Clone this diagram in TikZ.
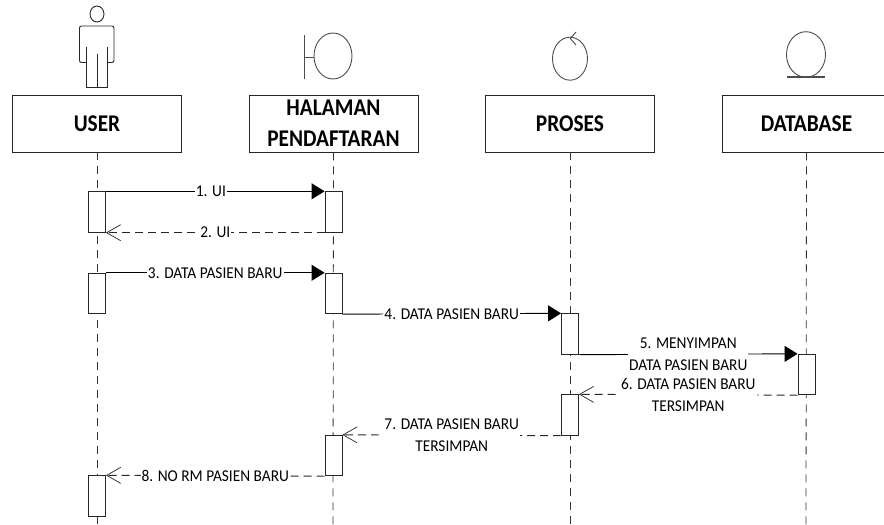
\documentclass[tikz,border=0pt]{standalone}
\usepackage{fontspec}
\setmainfont{Carlito}
\newfontfamily\headfam[FakeStretch=0.89]{Carlito}
\newfontfamily\labfam[FakeStretch=0.93]{Carlito}
\usetikzlibrary{arrows.meta}
\tikzset{
 headbox/.style={draw=black!85,line width=0.9pt,fill=white,minimum width=169,minimum height=57,inner sep=0pt,align=center,font=\fontsize{24}{31}\selectfont\headfam\bfseries},
 bar/.style={draw=black!85,line width=0.9pt,fill=white,minimum width=17,minimum height=40.5,inner sep=0pt},
 life/.style={draw=black!80,line width=0.8pt,dash pattern=on 8pt off 6pt},
 msg/.style={draw=black,line width=0.9pt,-{Triangle[length=13pt,width=16pt]},shorten >=0pt},
 ret/.style={draw=black!85,line width=0.9pt,dash pattern=on 8pt off 5pt,-{Straight Barb[length=14pt,width=16pt,line width=0.7pt]}},
 lab/.style={fill=white,inner xsep=1pt,inner ysep=0pt,align=center,font=\fontsize{16.5}{21.5}\selectfont\labfam},
 icon/.style={draw=black!70,line width=0.9pt}
}
\begin{document}
\begin{tikzpicture}[x=1pt,y=-1pt]
\useasboundingbox (0,0) rectangle (884,525);
\clip (0,0) rectangle (884,525);
% lifeline ends
\coordinate (eu) at (97,525);
\coordinate (eh) at (333,525);
\coordinate (ep) at (570,525);
\coordinate (ed) at (806,525);
% heads
\node[headbox] (user) at (97,123.5) {USER};
\node[headbox] (hal) at (333.5,123.5) {HALAMAN\\PENDAFTARAN};
\node[headbox] (pro) at (570,123.5) {PROSES};
\node[headbox] (db) at (806.5,123.5) {DATABASE};
\draw[life] (user.south) -- (eu);
\draw[life] (hal.south) -- (eh);
\draw[life] (pro.south) -- (ep);
\draw[life] (db.south) -- (ed);
% activations
\node[bar] (u1) at (97,212) {};
\node[bar] (u2) at (97,293.5) {};
\node[bar] (u3) at (97,496) {};
\node[bar] (h1) at (333.5,212) {};
\node[bar] (h2) at (333.5,293.5) {};
\node[bar] (h3) at (333.5,455.5) {};
\node[bar] (p1) at (570,334) {};
\node[bar] (p2) at (570,415) {};
\node[bar] (d1) at (806.5,374.5) {};
% messages
\draw[msg] (u1.north east) -- node[lab,pos=0.48]{1. UI} (h1.north west);
\draw[ret] (h1.south west) -- node[lab,pos=0.5]{2. UI} (u1.south east);
\draw[msg] (u2.north east) -- node[lab,pos=0.5]{3. DATA PASIEN BARU} (h2.north west);
\draw[msg] (h2.south east) -- node[lab,pos=0.5]{4. DATA PASIEN BARU} (p1.north west);
\draw[msg] (p1.south east) -- node[lab,pos=0.5]{5. MENYIMPAN\\DATA PASIEN BARU} (d1.north west);
\draw[ret] (d1.south west) -- node[lab,pos=0.5]{6. DATA PASIEN BARU\\TERSIMPAN} (p2.north east);
\draw[ret] (p2.south west) -- node[lab,pos=0.5]{7. DATA PASIEN BARU\\TERSIMPAN} (h3.north east);
\draw[ret] (h3.south west) -- node[lab,pos=0.5]{8. NO RM PASIEN BARU} (u3.north east);
% actor
\draw[icon,draw=black!85] (97,14) ellipse (7 and 8);
\draw[icon,draw=black!85,rounded corners=2pt] (86.3,62.5) -- (79.5,62.5) -- (79.5,26) -- (114,26) -- (114,62.5) -- (107.3,62.5);
\draw[icon,draw=black!85] (86.3,46.7) -- (86.3,87.5) -- (107.3,87.5) -- (107.3,46.7);
\draw[icon,draw=black!85] (97,54) -- (97,87.5);
% boundary
\draw[icon] (333,56) ellipse (19 and 23);
\draw[icon] (304.5,35) -- (304.5,79);
\draw[icon] (304.5,57) -- (314,57);
% control
\draw[icon] (570,58.7) ellipse (17.5 and 21.5);
\draw[icon] (576,32) -- (570.3,38.5) -- (576,45);
% entity
\draw[icon] (806,54.5) ellipse (19.5 and 22.8);
\draw[icon,line width=1.3pt] (787,77) -- (825,77);
\end{tikzpicture}
\end{document}
